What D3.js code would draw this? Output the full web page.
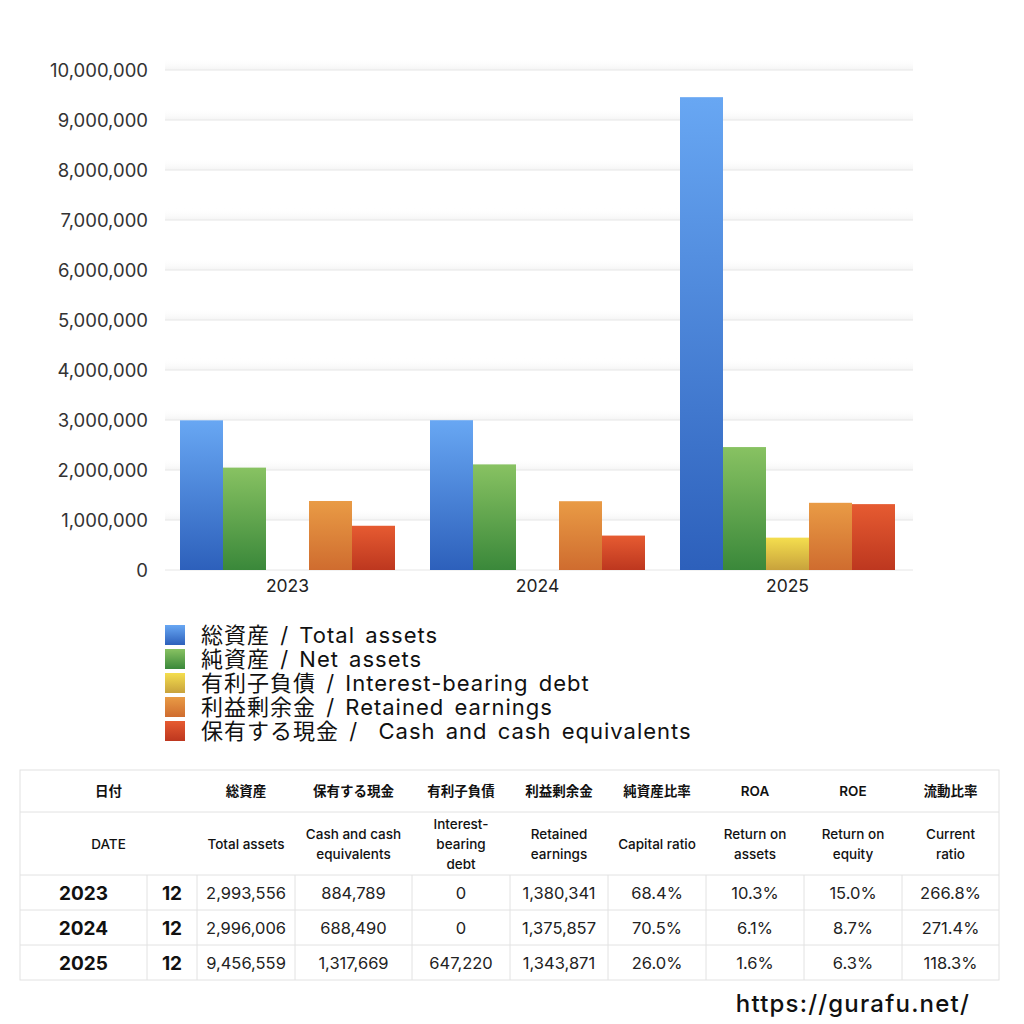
<!DOCTYPE html>
<html><head><meta charset="utf-8">
<script src="https://cdn.jsdelivr.net/npm/d3@7"></script>
<style>
html,body{margin:0;padding:0;background:#fff;}
svg{display:block;font-family:"Inter","Noto Sans CJK JP",sans-serif;}
</style></head>
<body>
<svg id="c" width="1024" height="1024"></svg>
<script>
const years = ["2023","2024","2025"];
const months = ["12","12","12"];
const seriesNames = ["総資産 / Total assets","純資産 / Net assets","有利子負債 / Interest-bearing debt","利益剰余金 / Retained earnings","保有する現金 /  Cash and cash equivalents"];
const totalAssets = [2993556, 2996006, 9456559];
const netAssets = [2047592, 2112184, 2458705];
const interestDebt = [0, 0, 647220];
const retainedEarnings = [1380341, 1375857, 1343871];
const cash = [884789, 688490, 1317669];
const yTicks = [0,1000000,2000000,3000000,4000000,5000000,6000000,7000000,8000000,9000000,10000000];
const gradTop = ["#68a7f3","#88c262","#f4de4e","#e99b45","#e65b31"];
const gradBot = ["#2d60bb","#3a883a","#c8a23c","#cf6c2f","#bd371f"];

const tableHead1 = ["日付","","総資産","保有する現金","有利子負債","利益剰余金","純資産比率","ROA","ROE","流動比率"];
const tableHead2 = [["DATE"],[],["Total assets"],["Cash and cash","equivalents"],["Interest-","bearing","debt"],["Retained","earnings"],["Capital ratio"],["Return on","assets"],["Return on","equity"],["Current","ratio"]];
const colTotal = ["2,993,556","2,996,006","9,456,559"];
const colCash = ["884,789","688,490","1,317,669"];
const colDebt = ["0","0","647,220"];
const colRetained = ["1,380,341","1,375,857","1,343,871"];
const colCapital = ["68.4%","70.5%","26.0%"];
const colROA = ["10.3%","6.1%","1.6%"];
const colROE = ["15.0%","8.7%","6.3%"];
const colCurrent = ["266.8%","271.4%","118.3%"];

const svg = d3.select("#c");
const defs = svg.append("defs");
gradTop.forEach((t,i)=>{
  const g = defs.append("linearGradient").attr("id","g"+i).attr("x1",0).attr("y1",0).attr("x2",0).attr("y2",1);
  g.append("stop").attr("offset","0%").attr("stop-color",t);
  g.append("stop").attr("offset","100%").attr("stop-color",gradBot[i]);
});
const shade = defs.append("linearGradient").attr("id","sh").attr("x1",0).attr("y1",0).attr("x2",0).attr("y2",1);
shade.append("stop").attr("offset","0%").attr("stop-color","#fff").attr("stop-opacity",0);
shade.append("stop").attr("offset","100%").attr("stop-color","#f4f4f4").attr("stop-opacity",1);

const L = 165, R = 913, T = 70, B = 570;
const y = d3.scaleLinear().domain([0,10000000]).range([B,T]);
const x0 = d3.scaleBand().domain(years).range([L,910]).paddingInner(0.14).paddingOuter(0.06);
const x1 = d3.scaleBand().domain(d3.range(5)).range([0,x0.bandwidth()]);

// grid
const grid = svg.append("g");
yTicks.forEach(t=>{
  if(t>0) grid.append("rect").attr("x",L).attr("y",y(t)-12).attr("width",R-L).attr("height",12).attr("fill","url(#sh)");
  grid.append("line").attr("x1",L).attr("x2",R).attr("y1",y(t)).attr("y2",y(t)).attr("stroke","#e6e6e6").attr("stroke-width",1);
});

// y axis
const yAxis = d3.axisLeft(y).tickValues(yTicks).tickFormat(d3.format(",")).tickSize(0).tickPadding(17);
const ya = svg.append("g").attr("transform",`translate(${L},0)`).call(yAxis);
ya.select(".domain").remove();
ya.selectAll("text").attr("font-size",18.5).attr("fill","#333").attr("font-family","Inter,sans-serif").attr("dy","0.36em");

// x axis
const xAxis = d3.axisBottom(x0).tickSize(0).tickPadding(10);
const xa = svg.append("g").attr("transform",`translate(0,${B})`).call(xAxis);
xa.select(".domain").remove();
xa.selectAll("text").attr("font-size",17.5).attr("fill","#222").attr("font-family","Inter,sans-serif");

// bars
const series = [totalAssets, netAssets, interestDebt, retainedEarnings, cash];
years.forEach((yr,gi)=>{
  const g = svg.append("g").attr("transform",`translate(${x0(yr)},0)`);
  series.forEach((s,si)=>{
    const v = s[gi];
    if(v<=0) return;
    g.append("rect").attr("x",x1(si)).attr("width",x1.bandwidth())
      .attr("y",y(v)).attr("height",B-y(v)).attr("fill",`url(#g${si})`);
  });
});

// legend
const lg = svg.append("g").attr("transform","translate(165,625)");
seriesNames.forEach((n,i)=>{
  lg.append("rect").attr("x",0).attr("y",i*24).attr("width",20).attr("height",20).attr("fill",`url(#g${i})`);
  lg.append("text").attr("x",36).attr("y",i*24+18).attr("font-size",22).attr("letter-spacing",1).attr("word-spacing",3).attr("fill","#111").style("white-space","pre").text(n);
});

// table
const colX = [20,147,197,295,412,510,608,706,804,902,999];
const rowY = [770,812,875,910,945,980];
const tg = svg.append("g");
const lineC = "#e2e2e2";
tg.append("rect").attr("x",colX[0]).attr("y",rowY[0]).attr("width",colX[10]-colX[0]).attr("height",rowY[5]-rowY[0]).attr("fill","none").attr("stroke",lineC);
rowY.slice(1,5).forEach(ry=>tg.append("line").attr("x1",colX[0]).attr("x2",colX[10]).attr("y1",ry).attr("y2",ry).attr("stroke",lineC));
colX.slice(1,10).forEach(cx=>tg.append("line").attr("x1",cx).attr("x2",cx).attr("y1",rowY[2]).attr("y2",rowY[5]).attr("stroke",lineC));
const cc = i => (colX[i]+colX[i+1])/2;
tableHead1.forEach((h,i)=>{
  if(!h) return;
  const cx = i===0 ? (colX[0]+colX[2])/2 : cc(i);
  tg.append("text").attr("x",cx).attr("y",(rowY[0]+rowY[1])/2+5).attr("text-anchor","middle").attr("font-size",13.5).attr("font-weight",600).attr("fill","#111").text(h);
});
tableHead2.forEach((lines,i)=>{
  if(!lines.length) return;
  const cx = i===0 ? (colX[0]+colX[2])/2 : cc(i);
  const mid = (rowY[1]+rowY[2])/2;
  lines.forEach((ln,k)=>{
    tg.append("text").attr("x",cx).attr("y",mid+5+(k-(lines.length-1)/2)*20).attr("text-anchor","middle").attr("font-size",13.5).attr("font-weight",500).attr("fill","#111").text(ln);
  });
});
const dataCols = [colTotal,colCash,colDebt,colRetained,colCapital,colROA,colROE,colCurrent];
years.forEach((yr,r)=>{
  const cy = (rowY[2+r]+rowY[3+r])/2 + 6;
  tg.append("text").attr("x",cc(0)).attr("y",cy+1).attr("text-anchor","middle").attr("font-size",19).attr("font-weight",700).attr("fill","#111").text(yr);
  tg.append("text").attr("x",cc(1)).attr("y",cy+1).attr("text-anchor","middle").attr("font-size",19).attr("font-weight",700).attr("fill","#111").text(months[r]);
  dataCols.forEach((col,ci)=>{
    tg.append("text").attr("x",cc(ci+2)).attr("y",cy).attr("text-anchor","middle").attr("font-size",16.5).attr("fill","#222").text(col[r]);
  });
});

svg.append("text").attr("x",970).attr("y",1012).attr("text-anchor","end").attr("font-size",24).attr("letter-spacing",1.2).attr("font-weight",500).attr("fill","#111").text("https://gurafu.net/");
</script>
</body></html>
